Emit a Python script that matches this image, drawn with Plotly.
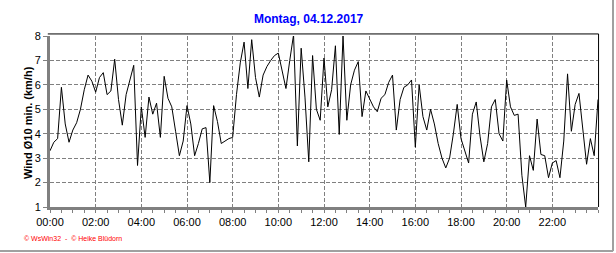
import plotly.graph_objects as go

# Wind speed, 10-minute mean (km/h), one value every 10 minutes from 00:00 to 24:00
wind = [
    3.3, 3.65, 3.8, 5.9, 4.4, 3.65, 4.15, 4.45, 5.0, 5.8, 6.4, 6.15,
    5.7, 6.3, 6.5, 5.6, 5.75, 7.05, 5.4, 4.35, 5.6, 6.2, 6.8, 2.7,
    5.1, 3.85, 5.5, 4.8, 5.25, 3.85, 6.35, 5.45, 5.1, 4.1, 3.1, 3.7,
    5.15, 4.4, 3.1, 3.6, 4.2, 4.25, 2.0, 5.15, 4.5, 3.6, 3.7, 3.8,
    3.85, 5.6, 6.9, 7.75, 5.85, 7.85, 6.3, 5.5, 6.4, 6.75, 7.0, 7.2,
    7.3, 6.6, 5.85, 7.0, 8.05, 3.5, 7.5, 5.5, 2.85, 7.2, 5.0, 4.55,
    7.1, 5.1, 5.8, 7.6, 3.97, 8.0, 4.55, 6.0, 6.6, 6.95, 4.7, 5.75,
    5.4, 5.1, 4.9, 5.45, 5.6, 6.1, 6.4, 4.15, 5.4, 5.9, 6.0, 6.2,
    3.45, 6.0, 4.7, 4.15, 5.0, 4.4, 3.6, 3.0, 2.6, 3.0, 4.0, 5.2,
    3.8, 3.3, 2.8, 4.8, 5.3, 3.9, 2.85, 3.6, 5.1, 5.4, 4.0, 3.7,
    6.2, 5.1, 4.75, 4.8, 2.3, 1.0, 3.1, 2.5, 4.6, 3.15, 3.1, 2.2,
    2.8, 2.9, 2.2, 3.7, 6.45, 4.1, 5.2, 5.65, 4.2, 2.75, 3.8, 3.1,
    5.4,
]
step_minutes = 10
hours = [k * step_minutes / 60 for k in range(len(wind))]

tick_hours = [0, 2, 4, 6, 8, 10, 12, 14, 16, 18, 20, 22]
tick_labels = ["00:00", "02:00", "04:00", "06:00", "08:00", "10:00",
               "12:00", "14:00", "16:00", "18:00", "20:00", "22:00"]
y_ticks = [1, 2, 3, 4, 5, 6, 7, 8]

title_text = "Montag, 04.12.2017"
y_title = "Wind Ø10 min. (km/h)"
footer = "© WsWin32  -  © Heike Blüdorn"

FONT = "Liberation Sans, Arial, sans-serif"
GRID = "#808080"

fig = go.Figure()
fig.add_trace(go.Scatter(x=hours, y=wind, mode="lines",
                         line=dict(color="black", width=1),
                         showlegend=False, hoverinfo="skip"))

fig.update_layout(
    width=616, height=253,
    margin=dict(l=50, r=18, t=36, b=46),
    paper_bgcolor="white", plot_bgcolor="white",
    font=dict(family=FONT, size=11, color="black"),
    title=dict(text="<b>" + title_text + "</b>",
               font=dict(family=FONT, size=12, color="#0000FF"),
               x=0.501, xanchor="center", xref="container",
               y=1 - 18.7 / 253, yanchor="middle", yref="container"),
    xaxis=dict(range=[0, 24], tickvals=tick_hours, ticktext=tick_labels,
               ticks="outside", ticklen=3, tickcolor=GRID, tickwidth=1,
               showline=True, linecolor=GRID, linewidth=3,
               showgrid=True, gridcolor=GRID, gridwidth=1, griddash="4px,2px",
               zeroline=False, tickfont=dict(size=11, color="black"),
               minor=dict(dtick=0.5, tick0=0, ticks="outside", ticklen=3,
                          tickcolor=GRID, showgrid=False)),
    yaxis=dict(range=[1, 8], tickvals=y_ticks,
               ticks="outside", ticklen=4, tickcolor=GRID, tickwidth=1,
               showline=True, linecolor=GRID, linewidth=3,
               showgrid=True, gridcolor=GRID, gridwidth=1, griddash="4px,2px",
               zeroline=False, tickfont=dict(size=11, color="black")),
)

# y-axis title
fig.add_annotation(text="<b>" + y_title + "</b>", xref="paper", yref="paper",
                   x=-0.041, y=0.494, xanchor="center", yanchor="middle",
                   textangle=-90, showarrow=False,
                   font=dict(family=FONT, size=11, color="black"))
# footer
fig.add_annotation(text=footer, xref="paper", yref="paper",
                   x=-0.052, y=-0.187, xanchor="left", yanchor="middle",
                   showarrow=False,
                   font=dict(family=FONT, size=7, color="#FF0000"))

# black frame on top and right of plot area
fig.add_shape(type="line", xref="paper", yref="paper",
              x0=-0.004, x1=1.001, y0=1.012, y1=1.012,
              line=dict(color="black", width=1))
fig.add_shape(type="line", xref="paper", yref="paper",
              x0=1.001, x1=1.001, y0=0, y1=1.012,
              line=dict(color="black", width=1))
# outer gray shadow frame
fig.add_shape(type="line", xref="paper", yref="paper",
              x0=1.0274, x1=1.0274, y0=-0.258, y1=1.22,
              line=dict(color="#A0A0A0", width=2))
fig.add_shape(type="line", xref="paper", yref="paper",
              x0=-0.1, x1=1.0274, y0=-0.258, y1=-0.258,
              line=dict(color="#A0A0A0", width=2))

fig.write_html("out.html")
